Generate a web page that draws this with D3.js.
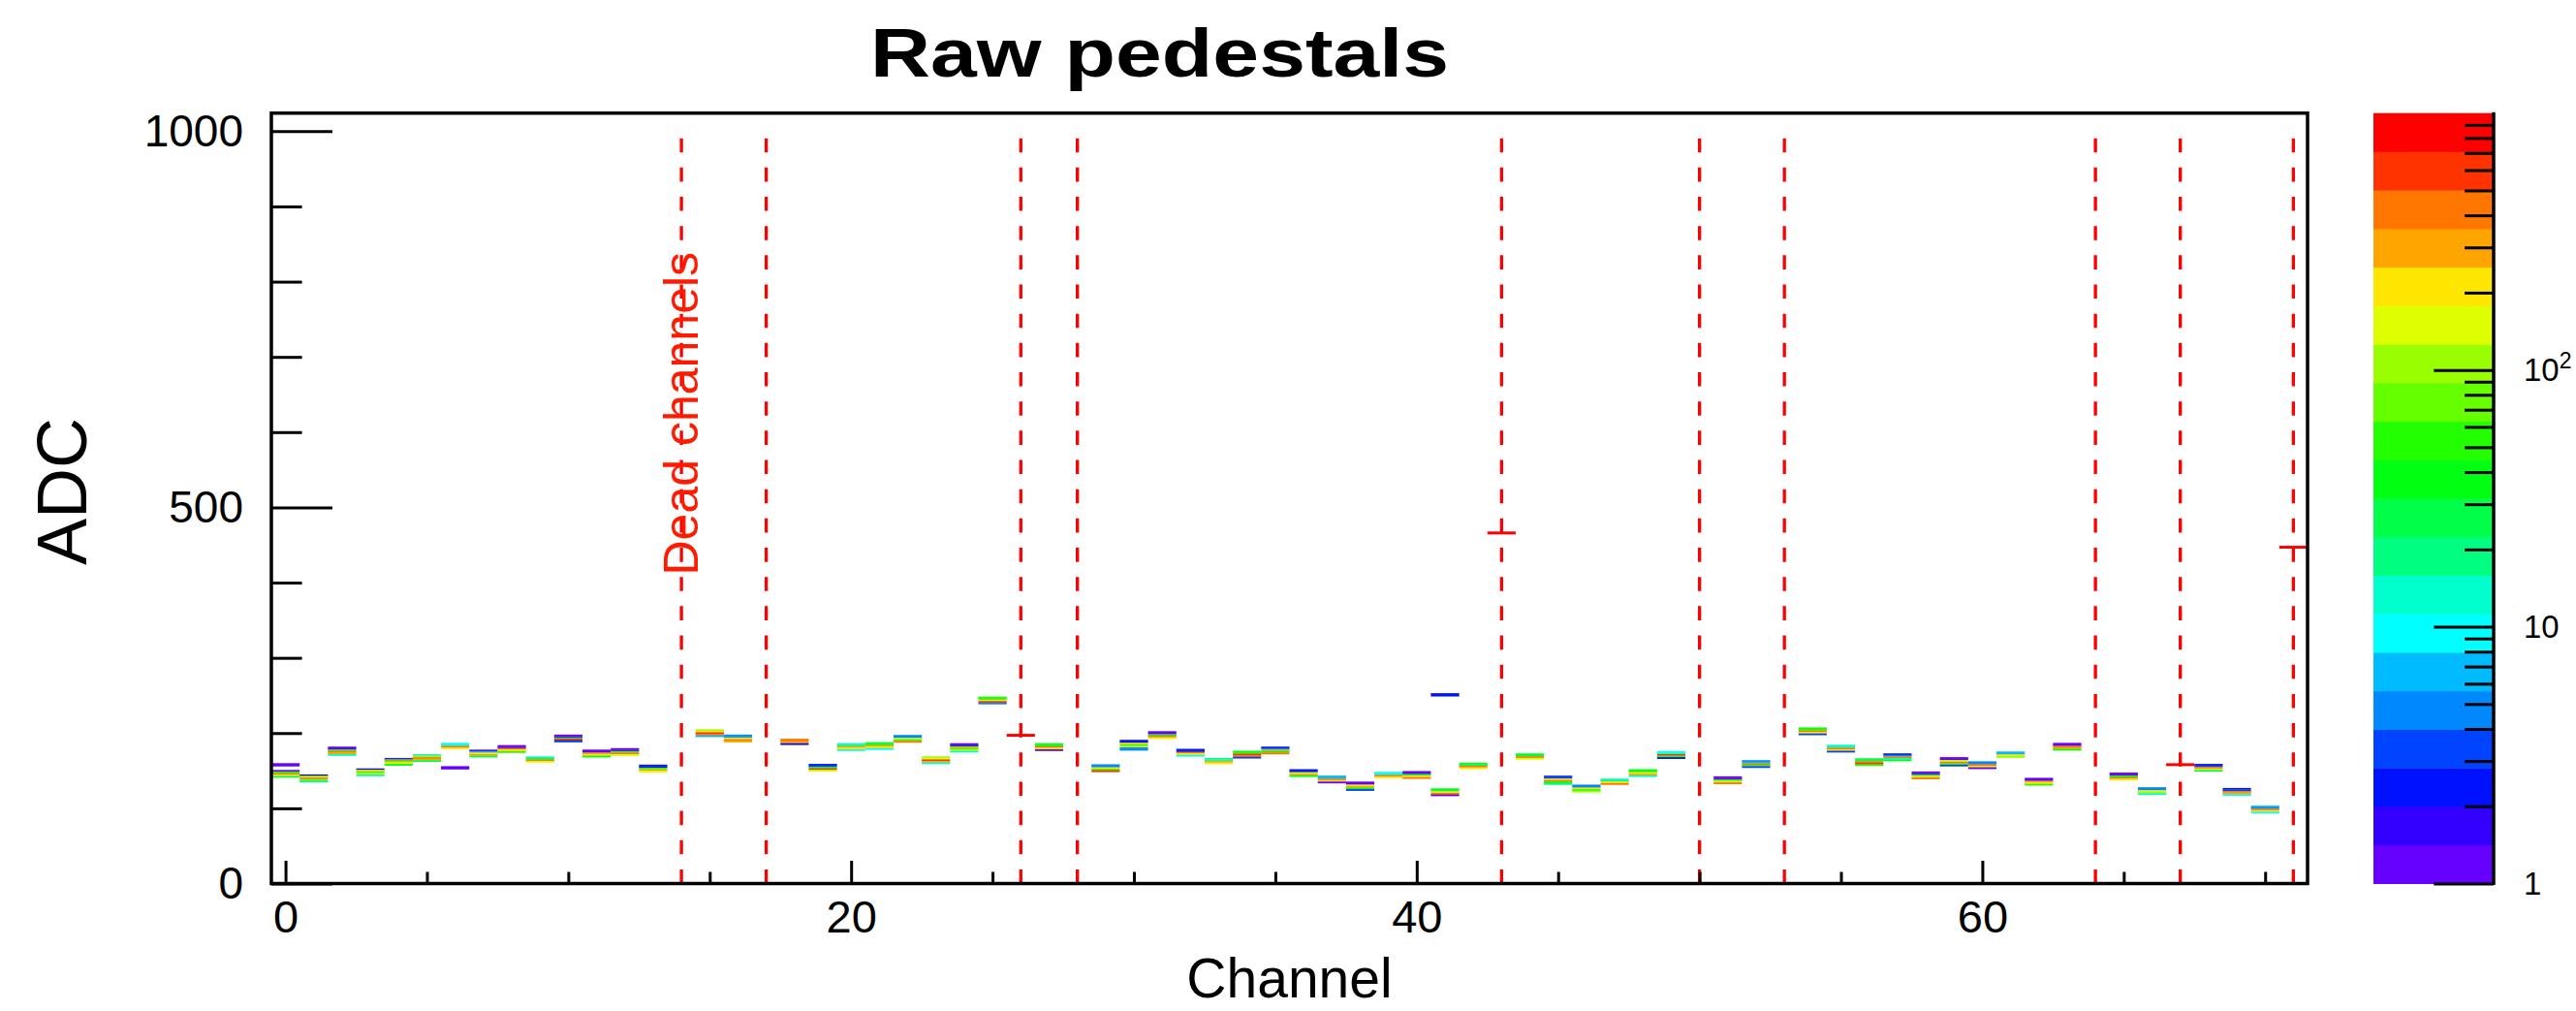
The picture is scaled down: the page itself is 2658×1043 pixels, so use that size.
<!DOCTYPE html>
<html>
<head>
<meta charset="utf-8">
<script src="https://cdn.jsdelivr.net/npm/d3@7"></script>
<style>
  body { margin: 0; background: #fff; }
  text { font-family: "Liberation Sans", Arial, Helvetica, sans-serif; }
</style>
</head>
<body>
<div id="chart"></div>
<script>
// Data: one column per channel, bins of 2 ADC listed from the top edge downward
const nChannels = 72;
const binWidth = 2;

const deadChannels = [14, 17, 26, 28, 43, 50, 53, 64, 67, 71];
const deadValues   = [0, 0, 197, 0, 466, 0, 0, 0, 158, 447];

const pedTop = [
  151, 145, 182, 153, 167, 172, 187, 178, 184, 169,
  198, 178, 180, 158, null, 205, 198, null, 192.5, 159,
  186.5, 188, 197.5, 169, 186.5, 248.5, null, 186.5, null, 158.5,
  191, 202.5, 179, 167, 176.5, 182, 152, 143.5, 135.5, 148.5,
  149.5, 126.5, 160.5, null, 173, 143.5, 131.5, 139.5, 152, 176,
  null, 142.5, 164, null, 207.5, 184.5, 166.5, 173, 149, 168,
  162.5, 175.5, 140.5, 187, null, 147.5, 128, null, 159, 127,
  103.5, null
];

const pedCounts = [
  [1, 40, 420, 210, 28], [2, 150, 420, 75, 20], [1, 1, 55, 420, 300, 13], [2, 210, 55, 150, 13],
  [1, 40, 300, 150, 40], [13, 110, 420, 300, 28], [10, 10, 420, 210], [1, 7, 210, 300, 28],
  [1, 1, 420, 210, 55], [13, 28, 420, 150], [1, 1, 40, 850, 3], [1, 1, 300, 210, 40],
  [1, 1, 55, 420, 150], [2, 2, 55, 300, 150], null, [110, 210, 600, 420, 7],
  [5, 5, 150, 420, 300], null, [420, 420, 300, 2], [2, 3, 40, 600, 150],
  [13, 20, 300, 210, 10], [28, 40, 300, 210, 10], [5, 5, 150, 55, 420], [110, 150, 600, 300, 13],
  [1, 2, 300, 55, 150, 13], [55, 40, 210, 600, 5], null, [40, 40, 420, 150, 1],
  null, [5, 5, 210, 55, 600], [2, 2, 210, 55, 150, 5, 5], [1, 1, 40, 420, 210],
  [2, 2, 420, 210, 10], [20, 13, 300, 210], [40, 55, 600, 420, 3], [2, 5, 300, 40, 420],
  [2, 2, 150, 300, 40], [7, 7, 420, 210, 1], [1, 1, 210, 300, 40, 3], [10, 10, 420, 210],
  [1, 1, 40, 210, 420], [40, 28, 210, 420, 1], [40, 28, 420, 210], null,
  [28, 40, 420, 150], [3, 3, 210, 420, 40, 20], [5, 5, 210, 55, 110], [13, 20, 210, 420],
  [40, 40, 210, 300, 13], [10, 13, 600, 55, 2], null, [1, 1, 40, 210, 420],
  [5, 7, 420, 55, 3], null, [40, 55, 420, 210, 3], [13, 13, 420, 210, 3],
  [28, 28, 420, 600, 55], [2, 5, 420, 13, 40], [1, 1, 40, 210, 420], [1, 1, 150, 420, 55, 3],
  [5, 5, 420, 210, 1], [7, 7, 210, 110], [1, 1, 300, 210, 55], [1, 1, 420, 300, 40],
  null, [1, 1, 40, 420, 210], [5, 5, 210, 110, 13], null,
  [2, 3, 420, 210, 28], [2, 3, 420, 300, 10], [7, 5, 420, 210, 10], null
];

// isolated entries away from the main pedestal
const outlierChannels = [0, 6, 41];
const outlierTop      = [160, 156, 253];
const outlierCounts   = [[1, 1], [1, 1], [2, 2]];

const yMajor = [0, 500, 1000];
const yMinor = [100, 200, 300, 400, 600, 700, 800, 900];
const xMajor = [0, 20, 40, 60];
const xMinor = [5, 10, 15, 25, 30, 35, 45, 50, 55, 65, 70];
const zMajor = [1, 10, 100];
const zMinor = [2, 3, 4, 5, 6, 7, 8, 9, 20, 30, 40, 50, 60, 70, 80, 90,
                200, 300, 400, 500, 600, 700, 800, 900];

// palette, bottom (1 count) to top (1000 counts)
const paletteColors = [
  "#6600ff", "#3300ff", "#0011ff", "#0044ff", "#0088ff", "#00bbff", "#00ffff",
  "#00ffcc", "#00ff80", "#00ff48", "#00ff10", "#22ff00", "#66ff00", "#99ff00",
  "#ddff00", "#ffe600", "#ffa500", "#ff7700", "#ff3300", "#ff0000"
];

// Set up SVG
const width = 2658;
const height = 1043;
const frame = {left: 280, right: 2381, top: 116.7, bottom: 911.5};
const pal = {left: 2449, right: 2573};

const svg = d3.select("#chart")
  .append("svg")
  .attr("width", width)
  .attr("height", height)
  .style("background", "#fff");

const x = d3.scaleLinear().domain([-0.5, nChannels - 0.5]).range([frame.left, frame.right]);
const y = d3.scaleLinear().domain([0, 1024]).range([frame.bottom, frame.top]);
const z = d3.scaleLog().domain([1, 1000]).range([frame.bottom, frame.top]);

function colorFor(n) {
  const band = Math.floor(Math.log10(n) / 3 * paletteColors.length);
  return paletteColors[Math.max(0, Math.min(paletteColors.length - 1, band))];
}

// Build cells
const cells = [];
function addColumn(ch, top, counts) {
  counts.forEach((n, i) => {
    cells.push({ch: ch, hi: top - binWidth * i, lo: top - binWidth * (i + 1), n: n});
  });
}
pedTop.forEach((top, ch) => {
  if (top !== null) addColumn(ch, top, pedCounts[ch]);
});
outlierChannels.forEach((ch, i) => addColumn(ch, outlierTop[i], outlierCounts[i]));

svg.append("g")
  .selectAll("rect")
  .data(cells)
  .enter()
  .append("rect")
  .attr("x", d => x(d.ch - 0.5))
  .attr("width", d => x(d.ch + 0.5) - x(d.ch - 0.5))
  .attr("y", d => y(d.hi))
  .attr("height", d => y(d.lo) - y(d.hi) + 0.3)
  .attr("fill", d => colorFor(d.n));

// Dead channel markers
svg.append("g")
  .selectAll("line")
  .data(deadChannels)
  .enter()
  .append("line")
  .attr("x1", d => x(d))
  .attr("x2", d => x(d))
  .attr("y1", y(0))
  .attr("y2", y(1000))
  .attr("stroke", "#ff0000")
  .attr("stroke-width", 3.3)
  .attr("stroke-dasharray", "14.6,15.57");

svg.append("g")
  .selectAll("line")
  .data(deadChannels)
  .enter()
  .append("line")
  .attr("x1", d => x(d - 0.5))
  .attr("x2", d => x(d + 0.5))
  .attr("y1", (d, i) => y(deadValues[i]))
  .attr("y2", (d, i) => y(deadValues[i]))
  .attr("stroke", "#ff0000")
  .attr("stroke-width", 3);

svg.append("text")
  .attr("transform", `translate(${x(14) + 17},593.5) rotate(-90)`)
  .attr("fill", "#ff1a00")
  .style("font-size", "50px")
  .text("Dead channels");

// Axes (ROOT style: ticks inside the frame)
function strip(g) {
  g.select(".domain").remove();
  g.selectAll(".tick line").attr("stroke", "#000").attr("stroke-width", 3);
}

svg.append("g")
  .attr("transform", `translate(${frame.left},0)`)
  .call(d3.axisRight(y).tickValues(yMajor).tickSize(63).tickFormat(""))
  .call(strip);
svg.append("g")
  .attr("transform", `translate(${frame.left},0)`)
  .call(d3.axisRight(y).tickValues(yMinor).tickSize(31.6).tickFormat(""))
  .call(strip);
svg.append("g")
  .attr("transform", `translate(${frame.left},0)`)
  .call(d3.axisLeft(y).tickValues(yMajor).tickSize(0).tickPadding(29).tickFormat(d3.format("d")))
  .call(g => g.select(".domain").remove())
  .selectAll("text")
  .style("font-size", "46px")
  .attr("fill", "#000");

svg.append("g")
  .attr("transform", `translate(0,${frame.bottom})`)
  .call(d3.axisTop(x).tickValues(xMajor).tickSize(23.5).tickFormat(""))
  .call(strip);
svg.append("g")
  .attr("transform", `translate(0,${frame.bottom})`)
  .call(d3.axisTop(x).tickValues(xMinor).tickSize(12).tickFormat(""))
  .call(strip);
svg.append("g")
  .attr("transform", `translate(0,${frame.bottom})`)
  .call(d3.axisBottom(x).tickValues(xMajor).tickSize(0).tickPadding(17))
  .call(g => g.select(".domain").remove())
  .selectAll("text")
  .style("font-size", "47px")
  .attr("fill", "#000");

// Frame
svg.append("rect")
  .attr("x", frame.left)
  .attr("y", frame.top)
  .attr("width", frame.right - frame.left)
  .attr("height", frame.bottom - frame.top)
  .attr("fill", "none")
  .attr("stroke", "#000")
  .attr("stroke-width", 3.5);

// Colour palette
const bandEdges = d3.range(paletteColors.length + 1).map(i => Math.pow(10, 3 * i / paletteColors.length));
svg.append("g")
  .selectAll("rect")
  .data(paletteColors)
  .enter()
  .append("rect")
  .attr("x", pal.left)
  .attr("width", pal.right - pal.left)
  .attr("y", (d, i) => z(bandEdges[i + 1]))
  .attr("height", (d, i) => z(bandEdges[i]) - z(bandEdges[i + 1]) + 0.5)
  .attr("fill", d => d);

svg.append("g")
  .attr("transform", `translate(${pal.right},0)`)
  .call(d3.axisLeft(z).tickValues(zMajor).tickSize(61.7).tickFormat(""))
  .call(strip);
svg.append("g")
  .attr("transform", `translate(${pal.right},0)`)
  .call(d3.axisLeft(z).tickValues(zMinor).tickSize(30).tickFormat(""))
  .call(strip);
svg.append("line")
  .attr("x1", pal.right)
  .attr("x2", pal.right)
  .attr("y1", frame.top - 1)
  .attr("y2", frame.bottom + 1.5)
  .attr("stroke", "#000")
  .attr("stroke-width", 3.5);

const zLabels = svg.append("g")
  .attr("transform", `translate(${pal.right},0)`)
  .call(d3.axisRight(z).tickValues(zMajor).tickSize(0).tickPadding(31)
    .tickFormat(d => d === 100 ? "10" : String(d)))
  .call(g => g.select(".domain").remove());
zLabels.selectAll("text")
  .style("font-size", "33px")
  .attr("fill", "#000");
zLabels.selectAll(".tick")
  .filter(d => d === 100)
  .select("text")
  .append("tspan")
  .attr("dy", "-0.55em")
  .style("font-size", "23px")
  .text("2");

// Titles
svg.append("text")
  .attr("x", 1196.5)
  .attr("y", 79.3)
  .attr("text-anchor", "middle")
  .attr("textLength", 597)
  .attr("lengthAdjust", "spacingAndGlyphs")
  .style("font-size", "71px")
  .style("font-weight", "bold")
  .text("Raw pedestals");

svg.append("text")
  .attr("x", (frame.left + frame.right) / 2)
  .attr("y", 1029)
  .attr("text-anchor", "middle")
  .style("font-size", "57px")
  .text("Channel");

svg.append("text")
  .attr("transform", "translate(89,507) rotate(-90)")
  .attr("text-anchor", "middle")
  .style("font-size", "72px")
  .text("ADC");
</script>
</body>
</html>
